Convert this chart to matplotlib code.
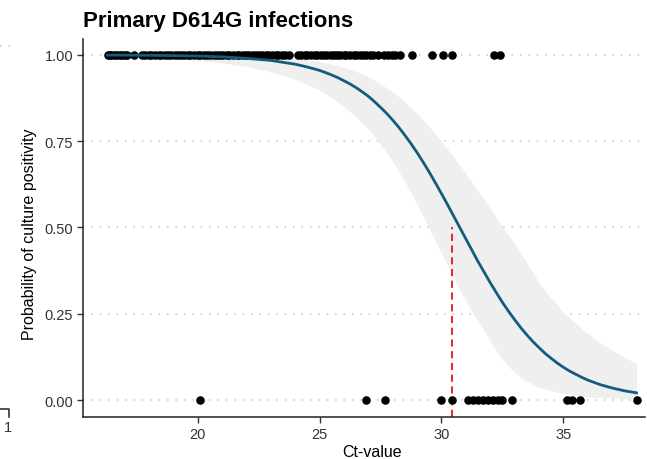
import numpy as np
import matplotlib
matplotlib.use('Agg')
import matplotlib.pyplot as plt
from matplotlib.lines import Line2D

plt.rcParams['font.family'] = ['Liberation Sans', 'DejaVu Sans']

# culture positive samples (Ct values, outcome = 1)
ct_positive = [16.3, 16.4, 16.5, 16.6, 16.7, 16.8, 16.9, 17.0, 17.1, 17.4,
               17.7, 17.85, 18.0, 18.1, 18.25, 18.4, 18.5, 18.65, 18.8, 18.9,
               19.05, 19.2, 19.3, 19.45, 19.6, 19.7, 19.85, 20.0, 20.1, 20.25,
               20.4, 20.5, 20.65, 20.8, 20.9, 21.05, 21.2, 21.3, 21.45, 21.6,
               21.7, 21.85, 22.0, 22.1, 22.25, 22.4, 22.5, 22.65, 22.8, 22.9,
               23.05, 23.2, 23.3, 23.45, 23.6, 23.75,
               24.1, 24.25, 24.4, 24.5, 24.65, 24.8, 24.9, 25.05, 25.2, 25.3,
               25.45, 25.6, 25.7, 25.85, 26.0, 26.1, 26.25, 26.4, 26.5, 26.65,
               26.8, 26.9, 27.05, 27.2, 27.4,
               27.65, 27.8, 27.95, 28.1, 28.3,
               28.8, 29.6, 30.05, 30.45, 32.15, 32.4]
# culture negative samples (outcome = 0)
ct_negative = [20.1, 26.9, 27.7, 30.0, 30.42, 31.1, 31.3, 31.5, 31.7, 31.9,
               32.1, 32.3, 32.5, 32.9, 35.13, 35.34, 35.68, 38.0]

# fitted probability and 95% band
ct_grid = [16.3, 17, 18, 19, 20, 21, 22, 23, 24, 24.5,
           25, 25.25, 25.5, 25.75, 26, 26.25, 26.5, 26.75, 27, 27.25,
           27.5, 27.75, 28, 28.25, 28.5, 28.75, 29, 29.25, 29.5, 29.75,
           30, 30.25, 30.5, 30.75, 31, 31.25, 31.5, 31.75, 32, 32.25,
           32.5, 32.75, 33, 33.25, 33.5, 33.75, 34, 34.25, 34.5, 34.75,
           35, 35.25, 35.5, 35.75, 36, 36.5, 37, 37.5, 38]
prob_fit = [0.9995, 0.9993, 0.9988, 0.998, 0.9967, 0.9943, 0.990, 0.984, 0.973, 0.9649,
            0.955, 0.9486, 0.9417, 0.934, 0.925, 0.9157, 0.905, 0.8929, 0.880, 0.8647,
            0.848, 0.8306, 0.811, 0.790, 0.767, 0.7427, 0.717, 0.6889, 0.660, 0.6295,
            0.598, 0.5659, 0.533, 0.500, 0.467, 0.4341, 0.401, 0.3705, 0.340, 0.3111,
            0.283, 0.2573, 0.233, 0.210, 0.189, 0.1694, 0.152, 0.1353, 0.121, 0.1072,
            0.095, 0.0843, 0.075, 0.066, 0.058, 0.045, 0.035, 0.027, 0.021]
prob_low = [0.9959, 0.9947, 0.9923, 0.9889, 0.9839, 0.9768, 0.9665, 0.951, 0.929, 0.9146,
            0.898, 0.8872, 0.8761, 0.864, 0.851, 0.8363, 0.820, 0.803, 0.7845, 0.7634,
            0.740, 0.7166, 0.691, 0.6623, 0.632, 0.6008, 0.568, 0.5331, 0.497, 0.4616,
            0.426, 0.3894, 0.3535, 0.3199, 0.2876, 0.2562, 0.2269, 0.2005, 0.170, 0.143,
            0.118, 0.097, 0.080, 0.066, 0.055, 0.046, 0.038, 0.032, 0.027, 0.023,
            0.019, 0.016, 0.013, 0.011, 0.009, 0.007, 0.005, 0.004, 0.003]
prob_high = [0.99995, 0.99991, 0.99983, 0.99965, 0.9993, 0.99864, 0.9973, 0.9948, 0.9899, 0.986,
             0.9807, 0.9774, 0.9736, 0.9693, 0.9643, 0.9585, 0.9518, 0.9446, 0.9363, 0.9269,
             0.916, 0.9049, 0.8924, 0.8783, 0.863, 0.847, 0.830, 0.8111, 0.791, 0.771,
             0.750, 0.727, 0.7035, 0.6801, 0.6564, 0.6308, 0.605, 0.580, 0.555, 0.529,
             0.503, 0.478, 0.4536, 0.425, 0.398, 0.369, 0.341, 0.317, 0.295, 0.275,
             0.255, 0.238, 0.222, 0.207, 0.193, 0.167, 0.145, 0.124, 0.105]
ct_50 = 30.45

fig = plt.figure(figsize=(6.47, 4.6), dpi=100)
ax = fig.add_axes([0.1283, 0.0913, 0.8687, 0.8217])

ax.fill_between(ct_grid, prob_low, prob_high, color='#efefef', lw=0, zorder=1)
for yv in [0, 0.25, 0.5, 0.75, 1.0]:
    ax.axhline(yv, color='#c4c4c4', lw=1.1, ls=(0, (1, 4.5)), zorder=0.5)
ax.plot([ct_50, ct_50], [-0.049, 0.5], color='#e8141b', lw=1.3,
        ls=(0, (4, 2.5)), zorder=2)
ax.scatter(ct_positive, [1] * len(ct_positive), s=38, color='black', lw=0, zorder=3)
ax.scatter(ct_negative, [0] * len(ct_negative), s=38, color='black', lw=0, zorder=3)
ax.plot(ct_grid, prob_fit, color='#135c7d', lw=2.0, zorder=4,
        solid_joinstyle='round')

ax.set_xlim(15.295, 38.35)
ax.set_ylim(-0.049, 1.046)
ax.set_xticks([20, 25, 30, 35])
ax.set_yticks([0, 0.25, 0.5, 0.75, 1.0])
ax.set_yticklabels(['0.00', '0.25', '0.50', '0.75', '1.00'])
ax.tick_params(length=4, width=1, color='#333333', labelsize=10.5,
               labelcolor='#333333', pad=3)
for side in ['top', 'right']:
    ax.spines[side].set_visible(False)
for side in ['left', 'bottom']:
    ax.spines[side].set_linewidth(1.1)
    ax.spines[side].set_color('#222222')

fig.text(0.128, 0.941, 'Primary D614G infections', fontsize=16,
         fontweight='bold', va='baseline', ha='left')
fig.text(0.575, 0.017, 'Ct-value', fontsize=11.5, ha='center', va='center')
fig.text(0.046, 0.49, 'Probability of culture positivity', fontsize=11.5,
         rotation=90, ha='center', va='center')

# edge of the neighbouring panel at the left border
fig.add_artist(Line2D([0, 0.018], [1 - 47 / 460] * 2, color='#c4c4c4', lw=1.1,
                      ls=(0, (1, 4.5))))
fig.add_artist(Line2D([0, 0.014, 0.014], [1 - 410 / 460, 1 - 410 / 460, 1 - 418 / 460],
                      color='#222222', lw=1.1))
fig.text(0.012, 1 - 428 / 460, '1', fontsize=10.5, color='#333333',
         ha='center', va='center')

fig.savefig('out.png', dpi=100)
